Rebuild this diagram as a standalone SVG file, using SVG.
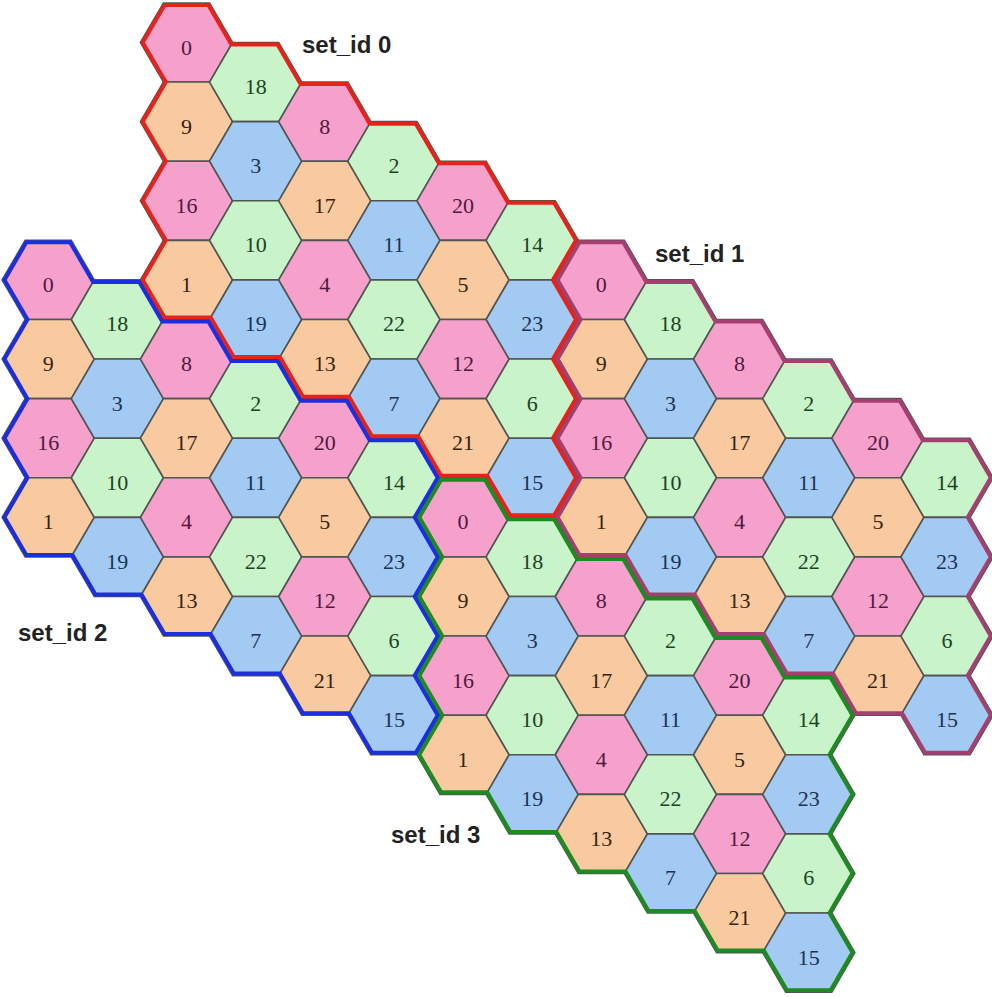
<svg xmlns="http://www.w3.org/2000/svg" xmlns:xlink="http://www.w3.org/1999/xlink" width="992" height="997" viewBox="0 0 992 997">
<style>
.c use{stroke:#4f5553;stroke-width:1.6;stroke-linejoin:miter}
.c text{font-family:"Liberation Serif","Times New Roman",serif;font-size:22px;text-anchor:middle}
.pk use{fill:#f6a1cb}.pk text{fill:#521841}
.or use{fill:#f9c9a0}.or text{fill:#36240f}
.gr use{fill:#c9f4c9}.gr text{fill:#1b4325}
.bl use{fill:#a3caf3}.bl text{fill:#1a3354}
.ol{fill:none;stroke-width:8;stroke-linejoin:miter}
.lbl{font-family:"Liberation Sans",Arial,sans-serif;font-weight:bold;font-size:24px;fill:#222}
</style>
<defs>
<polygon id="hx" points="-46.09,0 -23.05,-39.57 23.05,-39.57 46.09,0 23.05,39.57 -23.05,39.57"/>
<path id="ol" d="M-46.09,0 L-23.05,-39.57 L23.05,-39.57 L46.09,0 L92.19,0 L115.23,39.57 L161.33,39.57 L184.37,79.14 L230.47,79.14 L253.51,118.71 L299.61,118.71 L322.65,158.28 L368.75,158.28 L391.79,197.85 L368.75,237.42 L391.79,276.99 L368.75,316.56 L391.79,356.13 L368.75,395.7 L391.79,435.27 L368.75,474.84 L322.65,474.84 L299.61,435.27 L253.51,435.27 L230.47,395.7 L184.37,395.7 L161.33,356.13 L115.23,356.13 L92.19,316.56 L46.09,316.56 L23.05,276.99 L-23.05,276.99 L-46.09,237.42 L-23.05,197.85 L-46.09,158.28 L-23.05,118.71 L-46.09,79.14 L-23.05,39.57 Z"/>
<clipPath id="cl"><use href="#ol"/></clipPath>
</defs>

<g id="set0" transform="translate(186.5,42.5)">
<g id="s0n0" class="c pk" transform="translate(0,0)"><use href="#hx"/><text y="12">0</text></g>
<g id="s0n9" class="c or" transform="translate(0,79.14)"><use href="#hx"/><text y="12">9</text></g>
<g id="s0n16" class="c pk" transform="translate(0,158.28)"><use href="#hx"/><text y="12">16</text></g>
<g id="s0n1" class="c or" transform="translate(0,237.42)"><use href="#hx"/><text y="12">1</text></g>
<g id="s0n18" class="c gr" transform="translate(69.14,39.57)"><use href="#hx"/><text y="12">18</text></g>
<g id="s0n3" class="c bl" transform="translate(69.14,118.71)"><use href="#hx"/><text y="12">3</text></g>
<g id="s0n10" class="c gr" transform="translate(69.14,197.85)"><use href="#hx"/><text y="12">10</text></g>
<g id="s0n19" class="c bl" transform="translate(69.14,276.99)"><use href="#hx"/><text y="12">19</text></g>
<g id="s0n8" class="c pk" transform="translate(138.28,79.14)"><use href="#hx"/><text y="12">8</text></g>
<g id="s0n17" class="c or" transform="translate(138.28,158.28)"><use href="#hx"/><text y="12">17</text></g>
<g id="s0n4" class="c pk" transform="translate(138.28,237.42)"><use href="#hx"/><text y="12">4</text></g>
<g id="s0n13" class="c or" transform="translate(138.28,316.56)"><use href="#hx"/><text y="12">13</text></g>
<g id="s0n2" class="c gr" transform="translate(207.42,118.71)"><use href="#hx"/><text y="12">2</text></g>
<g id="s0n11" class="c bl" transform="translate(207.42,197.85)"><use href="#hx"/><text y="12">11</text></g>
<g id="s0n22" class="c gr" transform="translate(207.42,276.99)"><use href="#hx"/><text y="12">22</text></g>
<g id="s0n7" class="c bl" transform="translate(207.42,356.13)"><use href="#hx"/><text y="12">7</text></g>
<g id="s0n20" class="c pk" transform="translate(276.56,158.28)"><use href="#hx"/><text y="12">20</text></g>
<g id="s0n5" class="c or" transform="translate(276.56,237.42)"><use href="#hx"/><text y="12">5</text></g>
<g id="s0n12" class="c pk" transform="translate(276.56,316.56)"><use href="#hx"/><text y="12">12</text></g>
<g id="s0n21" class="c or" transform="translate(276.56,395.7)"><use href="#hx"/><text y="12">21</text></g>
<g id="s0n14" class="c gr" transform="translate(345.7,197.85)"><use href="#hx"/><text y="12">14</text></g>
<g id="s0n23" class="c bl" transform="translate(345.7,276.99)"><use href="#hx"/><text y="12">23</text></g>
<g id="s0n6" class="c gr" transform="translate(345.7,356.13)"><use href="#hx"/><text y="12">6</text></g>
<g id="s0n15" class="c bl" transform="translate(345.7,435.27)"><use href="#hx"/><text y="12">15</text></g>
</g>

<g id="set1" transform="translate(601.34,279.92)">
<g id="s1n0" class="c pk" transform="translate(0,0)"><use href="#hx"/><text y="12">0</text></g>
<g id="s1n9" class="c or" transform="translate(0,79.14)"><use href="#hx"/><text y="12">9</text></g>
<g id="s1n16" class="c pk" transform="translate(0,158.28)"><use href="#hx"/><text y="12">16</text></g>
<g id="s1n1" class="c or" transform="translate(0,237.42)"><use href="#hx"/><text y="12">1</text></g>
<g id="s1n18" class="c gr" transform="translate(69.14,39.57)"><use href="#hx"/><text y="12">18</text></g>
<g id="s1n3" class="c bl" transform="translate(69.14,118.71)"><use href="#hx"/><text y="12">3</text></g>
<g id="s1n10" class="c gr" transform="translate(69.14,197.85)"><use href="#hx"/><text y="12">10</text></g>
<g id="s1n19" class="c bl" transform="translate(69.14,276.99)"><use href="#hx"/><text y="12">19</text></g>
<g id="s1n8" class="c pk" transform="translate(138.28,79.14)"><use href="#hx"/><text y="12">8</text></g>
<g id="s1n17" class="c or" transform="translate(138.28,158.28)"><use href="#hx"/><text y="12">17</text></g>
<g id="s1n4" class="c pk" transform="translate(138.28,237.42)"><use href="#hx"/><text y="12">4</text></g>
<g id="s1n13" class="c or" transform="translate(138.28,316.56)"><use href="#hx"/><text y="12">13</text></g>
<g id="s1n2" class="c gr" transform="translate(207.42,118.71)"><use href="#hx"/><text y="12">2</text></g>
<g id="s1n11" class="c bl" transform="translate(207.42,197.85)"><use href="#hx"/><text y="12">11</text></g>
<g id="s1n22" class="c gr" transform="translate(207.42,276.99)"><use href="#hx"/><text y="12">22</text></g>
<g id="s1n7" class="c bl" transform="translate(207.42,356.13)"><use href="#hx"/><text y="12">7</text></g>
<g id="s1n20" class="c pk" transform="translate(276.56,158.28)"><use href="#hx"/><text y="12">20</text></g>
<g id="s1n5" class="c or" transform="translate(276.56,237.42)"><use href="#hx"/><text y="12">5</text></g>
<g id="s1n12" class="c pk" transform="translate(276.56,316.56)"><use href="#hx"/><text y="12">12</text></g>
<g id="s1n21" class="c or" transform="translate(276.56,395.7)"><use href="#hx"/><text y="12">21</text></g>
<g id="s1n14" class="c gr" transform="translate(345.7,197.85)"><use href="#hx"/><text y="12">14</text></g>
<g id="s1n23" class="c bl" transform="translate(345.7,276.99)"><use href="#hx"/><text y="12">23</text></g>
<g id="s1n6" class="c gr" transform="translate(345.7,356.13)"><use href="#hx"/><text y="12">6</text></g>
<g id="s1n15" class="c bl" transform="translate(345.7,435.27)"><use href="#hx"/><text y="12">15</text></g>
</g>

<g id="set2" transform="translate(48.22,279.92)">
<g id="s2n0" class="c pk" transform="translate(0,0)"><use href="#hx"/><text y="12">0</text></g>
<g id="s2n9" class="c or" transform="translate(0,79.14)"><use href="#hx"/><text y="12">9</text></g>
<g id="s2n16" class="c pk" transform="translate(0,158.28)"><use href="#hx"/><text y="12">16</text></g>
<g id="s2n1" class="c or" transform="translate(0,237.42)"><use href="#hx"/><text y="12">1</text></g>
<g id="s2n18" class="c gr" transform="translate(69.14,39.57)"><use href="#hx"/><text y="12">18</text></g>
<g id="s2n3" class="c bl" transform="translate(69.14,118.71)"><use href="#hx"/><text y="12">3</text></g>
<g id="s2n10" class="c gr" transform="translate(69.14,197.85)"><use href="#hx"/><text y="12">10</text></g>
<g id="s2n19" class="c bl" transform="translate(69.14,276.99)"><use href="#hx"/><text y="12">19</text></g>
<g id="s2n8" class="c pk" transform="translate(138.28,79.14)"><use href="#hx"/><text y="12">8</text></g>
<g id="s2n17" class="c or" transform="translate(138.28,158.28)"><use href="#hx"/><text y="12">17</text></g>
<g id="s2n4" class="c pk" transform="translate(138.28,237.42)"><use href="#hx"/><text y="12">4</text></g>
<g id="s2n13" class="c or" transform="translate(138.28,316.56)"><use href="#hx"/><text y="12">13</text></g>
<g id="s2n2" class="c gr" transform="translate(207.42,118.71)"><use href="#hx"/><text y="12">2</text></g>
<g id="s2n11" class="c bl" transform="translate(207.42,197.85)"><use href="#hx"/><text y="12">11</text></g>
<g id="s2n22" class="c gr" transform="translate(207.42,276.99)"><use href="#hx"/><text y="12">22</text></g>
<g id="s2n7" class="c bl" transform="translate(207.42,356.13)"><use href="#hx"/><text y="12">7</text></g>
<g id="s2n20" class="c pk" transform="translate(276.56,158.28)"><use href="#hx"/><text y="12">20</text></g>
<g id="s2n5" class="c or" transform="translate(276.56,237.42)"><use href="#hx"/><text y="12">5</text></g>
<g id="s2n12" class="c pk" transform="translate(276.56,316.56)"><use href="#hx"/><text y="12">12</text></g>
<g id="s2n21" class="c or" transform="translate(276.56,395.7)"><use href="#hx"/><text y="12">21</text></g>
<g id="s2n14" class="c gr" transform="translate(345.7,197.85)"><use href="#hx"/><text y="12">14</text></g>
<g id="s2n23" class="c bl" transform="translate(345.7,276.99)"><use href="#hx"/><text y="12">23</text></g>
<g id="s2n6" class="c gr" transform="translate(345.7,356.13)"><use href="#hx"/><text y="12">6</text></g>
<g id="s2n15" class="c bl" transform="translate(345.7,435.27)"><use href="#hx"/><text y="12">15</text></g>
</g>

<g id="set3" transform="translate(463.06,517.34)">
<g id="s3n0" class="c pk" transform="translate(0,0)"><use href="#hx"/><text y="12">0</text></g>
<g id="s3n9" class="c or" transform="translate(0,79.14)"><use href="#hx"/><text y="12">9</text></g>
<g id="s3n16" class="c pk" transform="translate(0,158.28)"><use href="#hx"/><text y="12">16</text></g>
<g id="s3n1" class="c or" transform="translate(0,237.42)"><use href="#hx"/><text y="12">1</text></g>
<g id="s3n18" class="c gr" transform="translate(69.14,39.57)"><use href="#hx"/><text y="12">18</text></g>
<g id="s3n3" class="c bl" transform="translate(69.14,118.71)"><use href="#hx"/><text y="12">3</text></g>
<g id="s3n10" class="c gr" transform="translate(69.14,197.85)"><use href="#hx"/><text y="12">10</text></g>
<g id="s3n19" class="c bl" transform="translate(69.14,276.99)"><use href="#hx"/><text y="12">19</text></g>
<g id="s3n8" class="c pk" transform="translate(138.28,79.14)"><use href="#hx"/><text y="12">8</text></g>
<g id="s3n17" class="c or" transform="translate(138.28,158.28)"><use href="#hx"/><text y="12">17</text></g>
<g id="s3n4" class="c pk" transform="translate(138.28,237.42)"><use href="#hx"/><text y="12">4</text></g>
<g id="s3n13" class="c or" transform="translate(138.28,316.56)"><use href="#hx"/><text y="12">13</text></g>
<g id="s3n2" class="c gr" transform="translate(207.42,118.71)"><use href="#hx"/><text y="12">2</text></g>
<g id="s3n11" class="c bl" transform="translate(207.42,197.85)"><use href="#hx"/><text y="12">11</text></g>
<g id="s3n22" class="c gr" transform="translate(207.42,276.99)"><use href="#hx"/><text y="12">22</text></g>
<g id="s3n7" class="c bl" transform="translate(207.42,356.13)"><use href="#hx"/><text y="12">7</text></g>
<g id="s3n20" class="c pk" transform="translate(276.56,158.28)"><use href="#hx"/><text y="12">20</text></g>
<g id="s3n5" class="c or" transform="translate(276.56,237.42)"><use href="#hx"/><text y="12">5</text></g>
<g id="s3n12" class="c pk" transform="translate(276.56,316.56)"><use href="#hx"/><text y="12">12</text></g>
<g id="s3n21" class="c or" transform="translate(276.56,395.7)"><use href="#hx"/><text y="12">21</text></g>
<g id="s3n14" class="c gr" transform="translate(345.7,197.85)"><use href="#hx"/><text y="12">14</text></g>
<g id="s3n23" class="c bl" transform="translate(345.7,276.99)"><use href="#hx"/><text y="12">23</text></g>
<g id="s3n6" class="c gr" transform="translate(345.7,356.13)"><use href="#hx"/><text y="12">6</text></g>
<g id="s3n15" class="c bl" transform="translate(345.7,435.27)"><use href="#hx"/><text y="12">15</text></g>
</g>

<g id="outlines">
<g transform="translate(186.5,42.5)"><use href="#ol" class="ol" stroke="#e6231b" clip-path="url(#cl)"/></g>
<g transform="translate(601.34,279.92)"><use href="#ol" class="ol" stroke="#a3406f" clip-path="url(#cl)"/></g>
<g transform="translate(48.22,279.92)"><use href="#ol" class="ol" stroke="#1c2fe0" clip-path="url(#cl)"/></g>
<g transform="translate(463.06,517.34)"><use href="#ol" class="ol" stroke="#1e8a22" clip-path="url(#cl)"/></g>
</g>

<g id="labels">
<text class="lbl" x="302" y="53">set_id 0</text>
<text class="lbl" x="655" y="262">set_id 1</text>
<text class="lbl" x="18" y="641">set_id 2</text>
<text class="lbl" x="391" y="843">set_id 3</text>
</g>
</svg>
